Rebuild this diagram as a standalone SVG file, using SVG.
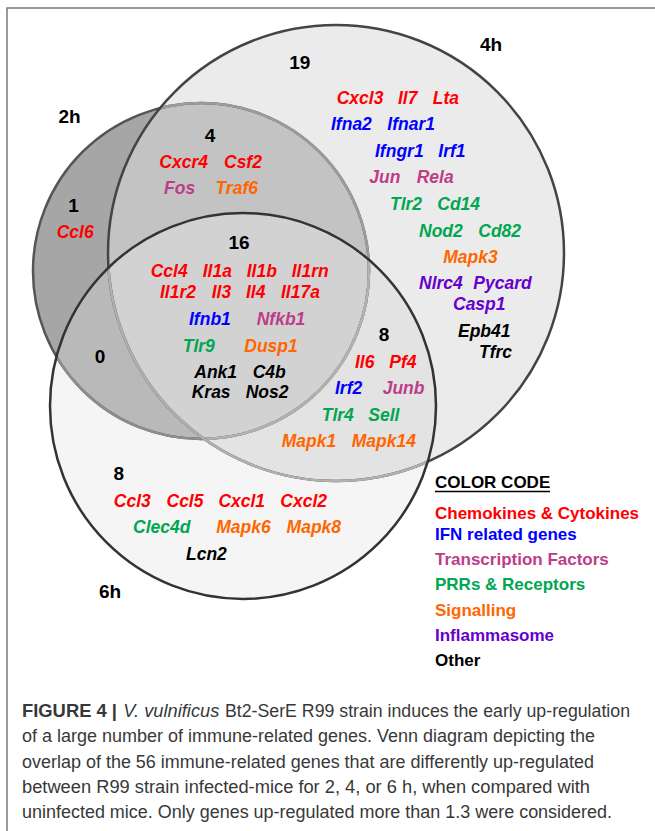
<svg xmlns="http://www.w3.org/2000/svg" width="655" height="831" viewBox="0 0 655 831">
<style>
text{font-family:"Liberation Sans",Arial,Helvetica,sans-serif}
.g{font-weight:bold;font-style:italic;font-size:17.5px}
.n{font-weight:bold;font-size:19px;fill:#000;text-anchor:middle}
.r{fill:#ff0000}.b{fill:#0000ff}.m{fill:#bd3d88}.e{fill:#00a651}.o{fill:#ff6600}.p{fill:#6600cc}.k{fill:#000}
.lg{font-weight:bold;font-size:17px}
.cap{font-size:17.5px;fill:#383838}
</style>
<defs>
<clipPath id="c2"><circle cx="201" cy="271" r="168"/></clipPath>
<clipPath id="c4"><circle cx="336" cy="253" r="228"/></clipPath>
<clipPath id="c6"><circle cx="243" cy="406" r="193"/></clipPath>
<circle id="s2" cx="201" cy="271" r="168"/>
<circle id="s4" cx="336" cy="253" r="228"/>
<circle id="s6" cx="243" cy="406" r="193"/>
</defs>
<rect width="655" height="831" fill="#fff"/>
<path d="M7,831 V8 H655" fill="none" stroke="#7a7a7a" stroke-width="1.5"/>
<g id="fills" stroke="none">
<use href="#s2" fill="#a6a6a6"/>
<use href="#s4" fill="#ebebeb"/>
<g clip-path="url(#c4)"><use href="#s2" fill="#c3c3c3"/></g>
<use href="#s6" fill="#f5f5f5"/>
<g clip-path="url(#c6)">
<use href="#s2" fill="#b9b9b9"/>
<use href="#s4" fill="#e3e3e3"/>
<g clip-path="url(#c4)"><use href="#s2" fill="#d2d2d2"/></g>
</g>
</g>
<g id="outlines" fill="none" stroke-width="2.5">
<use href="#s2" stroke="#555"/>
<g clip-path="url(#c4)"><use href="#s2" stroke="#9c9c9c"/></g>
<g clip-path="url(#c6)"><use href="#s2" stroke="#8e8e8e"/></g>
<g clip-path="url(#c6)"><g clip-path="url(#c4)"><use href="#s2" stroke="#b2b2b2"/></g></g>
<use href="#s4" stroke="#444"/>
<g clip-path="url(#c6)"><use href="#s4" stroke="#b0b0b0"/></g>
<use href="#s6" stroke="#333"/>
</g>
<g id="set-labels">
<text class="n" x="69.5" y="123">2h</text>
<text class="n" x="491" y="51">4h</text>
<text class="n" x="110" y="598">6h</text>
</g>
<g id="region-2h-only">
<text class="n" x="73.5" y="212">1</text>
<text class="g r" x="56.7" y="238">Ccl6</text>
</g>
<g id="region-2h-4h">
<text class="n" x="210" y="141.7">4</text>
<text class="g r" x="159.3" y="167.5">Cxcr4</text>
<text class="g r" x="224" y="167.5">Csf2</text>
<text class="g m" x="164" y="193.5">Fos</text>
<text class="g o" x="215.5" y="193.5">Traf6</text>
</g>
<g id="region-4h-only">
<text class="n" x="299.7" y="69.3">19</text>
<text class="g r" x="336.7" y="104">Cxcl3</text>
<text class="g r" x="398" y="104">Il7</text>
<text class="g r" x="432.7" y="104">Lta</text>
<text class="g b" x="331" y="130">Ifna2</text>
<text class="g b" x="387.3" y="130">Ifnar1</text>
<text class="g b" x="375" y="156.5">Ifngr1</text>
<text class="g b" x="438.3" y="156.5">Irf1</text>
<text class="g m" x="369.3" y="183">Jun</text>
<text class="g m" x="416.7" y="183">Rela</text>
<text class="g e" x="390" y="209.5">Tlr2</text>
<text class="g e" x="437.3" y="209.5">Cd14</text>
<text class="g e" x="419" y="236.5">Nod2</text>
<text class="g e" x="478.3" y="236.5">Cd82</text>
<text class="g o" x="443.3" y="262.5">Mapk3</text>
<text class="g p" x="419" y="289.3">Nlrc4</text>
<text class="g p" x="473.3" y="289.3">Pycard</text>
<text class="g p" x="453" y="310">Casp1</text>
<text class="g k" x="458" y="337">Epb41</text>
<text class="g k" x="479" y="358">Tfrc</text>
</g>
<g id="region-all">
<text class="n" x="239" y="249.3">16</text>
<text class="g r" x="150.7" y="276.7">Ccl4</text>
<text class="g r" x="202.7" y="276.7">Il1a</text>
<text class="g r" x="246.7" y="276.7">Il1b</text>
<text class="g r" x="291.7" y="276.7">Il1rn</text>
<text class="g r" x="160" y="298.3">Il1r2</text>
<text class="g r" x="211.7" y="298.3">Il3</text>
<text class="g r" x="246" y="298.3">Il4</text>
<text class="g r" x="281" y="298.3">Il17a</text>
<text class="g b" x="189" y="325">Ifnb1</text>
<text class="g m" x="256.7" y="325">Nfkb1</text>
<text class="g e" x="182.7" y="351.7">Tlr9</text>
<text class="g o" x="244.3" y="351.7">Dusp1</text>
<text class="g k" x="194.3" y="378.3">Ank1</text>
<text class="g k" x="252.7" y="378.3">C4b</text>
<text class="g k" x="191.7" y="398.3">Kras</text>
<text class="g k" x="245.7" y="398.3">Nos2</text>
</g>
<g id="region-2h-6h">
<text class="n" x="100" y="363.3">0</text>
</g>
<g id="region-4h-6h">
<text class="n" x="384" y="341">8</text>
<text class="g r" x="355" y="367.7">Il6</text>
<text class="g r" x="389.3" y="367.7">Pf4</text>
<text class="g b" x="335" y="394.3">Irf2</text>
<text class="g m" x="382.7" y="394.3">Junb</text>
<text class="g e" x="321.7" y="421">Tlr4</text>
<text class="g e" x="368.3" y="421">Sell</text>
<text class="g o" x="281.7" y="447.3">Mapk1</text>
<text class="g o" x="351.7" y="447.3">Mapk14</text>
</g>
<g id="region-6h-only">
<text class="n" x="118.7" y="480">8</text>
<text class="g r" x="113.8" y="506.7">Ccl3</text>
<text class="g r" x="166.5" y="506.7">Ccl5</text>
<text class="g r" x="218.4" y="506.7">Cxcl1</text>
<text class="g r" x="280.3" y="506.7">Cxcl2</text>
<text class="g e" x="133" y="533.3">Clec4d</text>
<text class="g o" x="216.3" y="533.3">Mapk6</text>
<text class="g o" x="286.6" y="533.3">Mapk8</text>
<text class="g k" x="186" y="560">Lcn2</text>
</g>
<g id="legend">
<text class="lg k" x="435" y="488">COLOR CODE</text>
<line x1="435" y1="491.5" x2="550" y2="491.5" stroke="#000" stroke-width="1.5"/>
<text class="lg r" x="435" y="519.3">Chemokines &amp; Cytokines</text>
<text class="lg b" x="435" y="539.5">IFN related genes</text>
<text class="lg m" x="435" y="565">Transcription Factors</text>
<text class="lg e" x="435" y="590.3">PRRs &amp; Receptors</text>
<text class="lg o" x="435" y="615.6">Signalling</text>
<text class="lg p" x="435" y="641">Inflammasome</text>
<text class="lg k" x="435" y="666.4">Other</text>
</g>
<g id="caption">
<text class="cap" x="22" y="716.7" font-weight="bold" textLength="95" lengthAdjust="spacingAndGlyphs">FIGURE 4 |</text>
<text class="cap" x="123.3" y="716.7" font-style="italic" textLength="96" lengthAdjust="spacingAndGlyphs">V. vulnificus</text>
<text class="cap" x="225" y="716.7" textLength="405" lengthAdjust="spacingAndGlyphs">Bt2-SerE R99 strain induces the early up-regulation</text>
<text class="cap" x="22" y="742.2" textLength="573" lengthAdjust="spacingAndGlyphs">of a large number of immune-related genes. Venn diagram depicting the</text>
<text class="cap" x="22" y="767.6" textLength="572" lengthAdjust="spacingAndGlyphs">overlap of the 56 immune-related genes that are differently up-regulated</text>
<text class="cap" x="22" y="792.8" textLength="568" lengthAdjust="spacingAndGlyphs">between R99 strain infected-mice for 2, 4, or 6 h, when compared with</text>
<text class="cap" x="22" y="818" textLength="590" lengthAdjust="spacingAndGlyphs">uninfected mice. Only genes up-regulated more than 1.3 were considered.</text>
</g>
</svg>
